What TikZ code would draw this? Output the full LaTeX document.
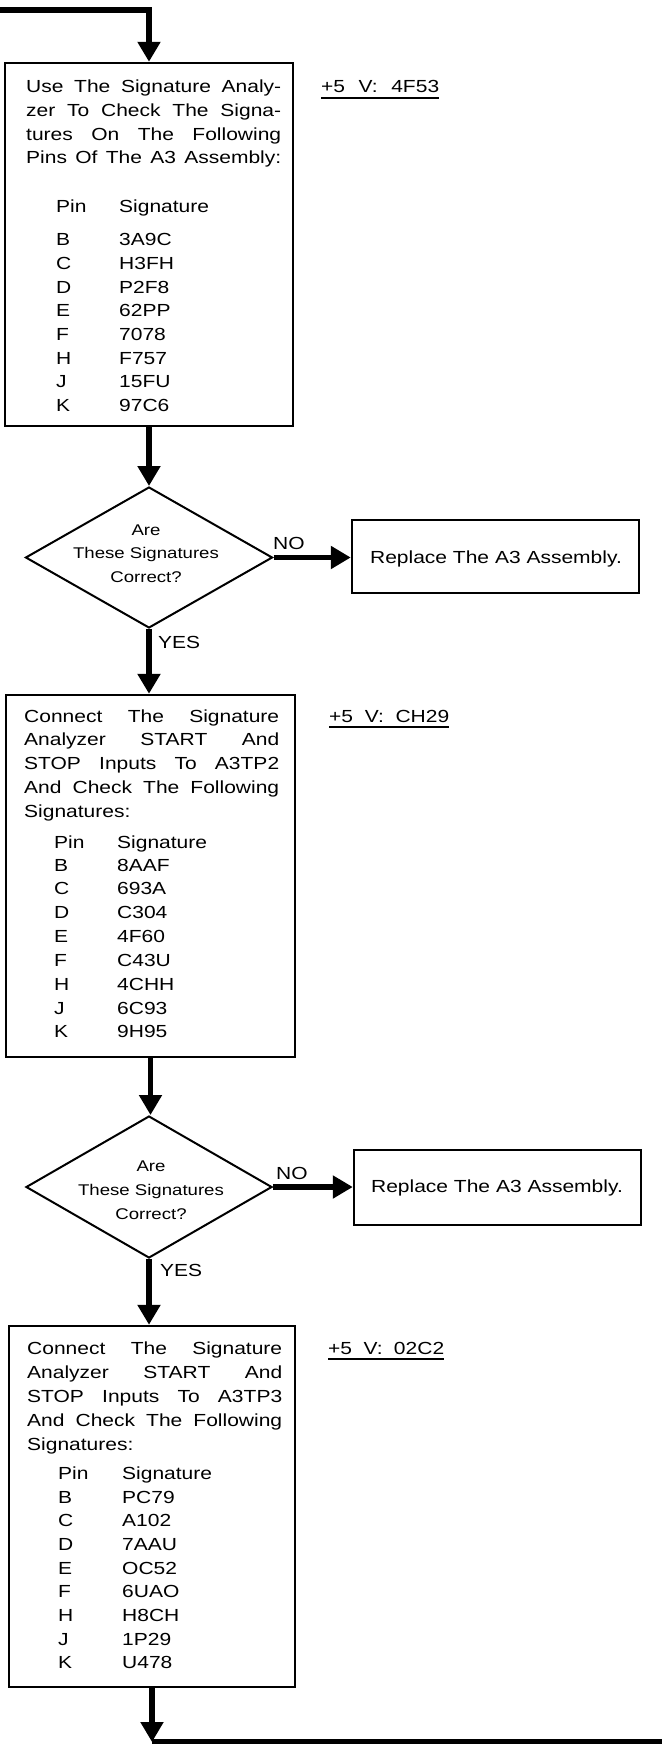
\documentclass[tikz,border=0pt]{standalone}
\usepackage{fontspec}
\setmainfont{Liberation Sans}[FakeStretch=1.2]
\usetikzlibrary{arrows.meta,shapes.geometric}
\newcommand\myBody{\fontsize{17.5}{21}\selectfont}
\newcommand\myDia{\fontsize{15.5}{19}\selectfont}
\newcommand\jline[1]{\makebox[255pt][s]{#1}}
\begin{document}
\begin{tikzpicture}[x=1pt,y=-1pt,
  box/.style={draw,rectangle,line width=2.4pt,inner sep=0pt},
  dia/.style={draw,diamond,line width=2pt,inner sep=0pt},
  conn/.style={line width=5.5pt,-{Triangle[width=22pt,length=20pt]}},
  plainline/.style={line width=5.5pt},
  txt/.style={anchor=base west,inner sep=0pt,font=\myBody},
  ctxt/.style={anchor=base,inner sep=0pt,font=\myBody},
  dtxt/.style={anchor=base,inner sep=0pt,font=\myDia},
  uline/.style={line width=1.4pt}]
\useasboundingbox (0,0) rectangle (662,1744);
% boxes
\node[box,minimum width=288pt,minimum height=363pt] (b1) at (149,244.5) {};
\node[dia,minimum width=247pt,minimum height=141pt] (d1) at (149,557.5) {};
\node[box,minimum width=287pt,minimum height=73pt] (r1) at (495.5,556.5) {};
\node[box,minimum width=289pt,minimum height=362pt] (b2) at (150.5,876) {};
\node[dia,minimum width=246pt,minimum height=142pt] (d2) at (149,1187) {};
\node[box,minimum width=287pt,minimum height=75pt] (r2) at (497.5,1187.5) {};
\node[box,minimum width=286pt,minimum height=361pt] (b3) at (152,1506.5) {};
% connectors
\coordinate (start) at (0,10);
\coordinate (endr) at (662,1742);
\draw[conn] (start) -| (b1.north);
\draw[conn] (b1.south) -- (b1.south |- d1.north);
\draw[conn] (d1.east) -- (d1.east -| r1.west);
\draw[conn] (d1.south) -- (d1.south |- b2.north);
\draw[conn] (b2.south) -- (b2.south |- d2.north);
\draw[conn] (d2.east) -- (d2.east -| r2.west);
\draw[conn] (d2.south) -- (d2.south |- b3.north);
\coordinate (joint) at (b3.south |- endr);
\draw[conn] (b3.south) -- (joint);
\draw[plainline] (joint) -- (endr);
% labels
\node[txt] (no1) at (273,549) {NO};
\node[txt] (yes1) at (158,648) {YES};
\node[txt] (no2) at (276,1179) {NO};
\node[txt] (yes2) at (160,1276) {YES};
\node[txt] (v1) at (321,93) {\makebox[118pt][s]{+5 V: 4F53}};
\node[txt] (v2) at (329,722) {\makebox[120pt][s]{+5 V: CH29}};
\node[txt] (v3) at (328,1354) {\makebox[116pt][s]{+5 V: 02C2}};
\draw[uline] ([yshift=-5pt]v1.base west) -- ([yshift=-5pt]v1.base east);
\draw[uline] ([yshift=-5pt]v2.base west) -- ([yshift=-5pt]v2.base east);
\draw[uline] ([yshift=-5pt]v3.base west) -- ([yshift=-5pt]v3.base east);
% box 1 text
\foreach \t [count=\i] in {Use The Signature Analy-,zer To Check The Signa-,tures On The Following,Pins Of The A3 Assembly:}
  \node[txt] (b1l\i) at (26,{93+23.6*(\i-1)}) {\jline{\t}};
\node[txt] (b1hp) at (56,213) {Pin};
\node[txt] (b1hs) at (119,213) {Signature};
\foreach \p/\s [count=\i] in {B/3A9C,C/H3FH,D/P2F8,E/62PP,F/7078,H/F757,J/15FU,K/97C6}{
  \node[txt] (b1p\i) at (56,{246+23.6*(\i-1)}) {\p};
  \node[txt] (b1s\i) at (119,{246+23.6*(\i-1)}) {\s};
}
% diamond 1 text
\node[dtxt] (d1a) at (146,535) {Are};
\node[dtxt] (d1b) at (146,558) {These Signatures};
\node[dtxt] (d1c) at (146,582) {Correct?};
\node[ctxt] (r1t) at (496,563) {Replace The A3 Assembly.};
% box 2 text
\foreach \t [count=\i] in {Connect The Signature,Analyzer START And,STOP Inputs To A3TP2,And Check The Following}
  \node[txt] (b2l\i) at (24,{722+23.7*(\i-1)}) {\jline{\t}};
\node[txt] (b2l5) at (24,817) {Signatures:};
\node[txt] (b2hp) at (54,848) {Pin};
\node[txt] (b2hs) at (117,848) {Signature};
\foreach \p/\s [count=\i] in {B/8AAF,C/693A,D/C304,E/4F60,F/C43U,H/4CHH,J/6C93,K/9H95}{
  \node[txt] (b2p\i) at (54,{871+23.85*(\i-1)}) {\p};
  \node[txt] (b2s\i) at (117,{871+23.85*(\i-1)}) {\s};
}
% diamond 2 text
\node[dtxt] (d2a) at (151,1171) {Are};
\node[dtxt] (d2b) at (151,1195) {These Signatures};
\node[dtxt] (d2c) at (151,1219) {Correct?};
\node[ctxt] (r2t) at (497,1192) {Replace The A3 Assembly.};
% box 3 text
\foreach \t [count=\i] in {Connect The Signature,Analyzer START And,STOP Inputs To A3TP3,And Check The Following}
  \node[txt] (b3l\i) at (27,{1354+24*(\i-1)}) {\jline{\t}};
\node[txt] (b3l5) at (27,1450) {Signatures:};
\node[txt] (b3hp) at (58,1479) {Pin};
\node[txt] (b3hs) at (122,1479) {Signature};
\foreach \p/\s [count=\i] in {B/PC79,C/A102,D/7AAU,E/OC52,F/6UAO,H/H8CH,J/1P29,K/U478}{
  \node[txt] (b3p\i) at (58,{1503+23.7*(\i-1)}) {\p};
  \node[txt] (b3s\i) at (122,{1503+23.7*(\i-1)}) {\s};
}
\end{tikzpicture}
\end{document}
